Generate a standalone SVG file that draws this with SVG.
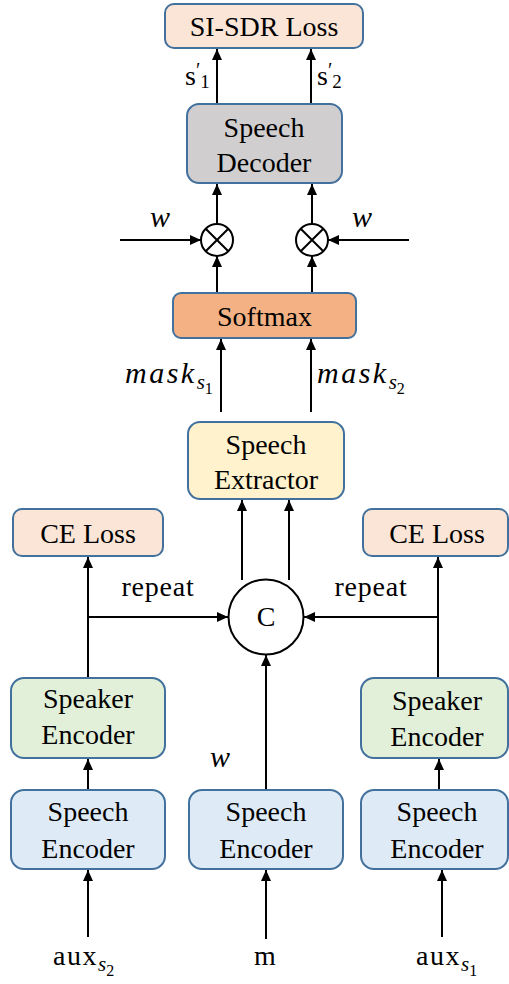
<svg xmlns="http://www.w3.org/2000/svg" width="509" height="984" viewBox="0 0 509 984">
<style>
.box{stroke:#41719C;stroke-width:2}
.t{font-family:"Liberation Serif","Tinos","Times New Roman","DejaVu Serif",serif;font-size:28px;fill:#000;text-anchor:middle}
.m{font-family:"Liberation Serif","Tinos","Times New Roman","DejaVu Serif",serif;font-style:italic;font-size:30px;fill:#000}
.u{font-family:"Liberation Serif","Tinos","Times New Roman","DejaVu Serif",serif;font-size:28px;fill:#000}
.ln{stroke:#000;stroke-width:2;fill:none}
</style>
<defs>
<marker id="ah" markerUnits="userSpaceOnUse" markerWidth="12" markerHeight="10" refX="11" refY="5" orient="auto">
<path d="M0,0 L11,5 L0,10 z" fill="#000"/>
</marker>
</defs>
<rect width="509" height="984" fill="#fff"/>

<g id="connectors">
<line class="ln" x1="217" y1="104" x2="217" y2="49" marker-end="url(#ah)"/>
<line class="ln" x1="311" y1="104" x2="311" y2="49" marker-end="url(#ah)"/>
<line class="ln" x1="217" y1="224" x2="217" y2="184" marker-end="url(#ah)"/>
<line class="ln" x1="312" y1="224" x2="312" y2="184" marker-end="url(#ah)"/>
<line class="ln" x1="120" y1="240" x2="201" y2="240" marker-end="url(#ah)"/>
<line class="ln" x1="409" y1="240" x2="328" y2="240" marker-end="url(#ah)"/>
<line class="ln" x1="217" y1="293" x2="217" y2="256" marker-end="url(#ah)"/>
<line class="ln" x1="312" y1="293" x2="312" y2="256" marker-end="url(#ah)"/>
<line class="ln" x1="221" y1="412" x2="221" y2="339" marker-end="url(#ah)"/>
<line class="ln" x1="311" y1="412" x2="311" y2="339" marker-end="url(#ah)"/>
<line class="ln" x1="242" y1="580" x2="242" y2="500" marker-end="url(#ah)"/>
<line class="ln" x1="289" y1="580" x2="289" y2="500" marker-end="url(#ah)"/>
<line class="ln" x1="88" y1="678" x2="88" y2="557" marker-end="url(#ah)"/>
<line class="ln" x1="88" y1="617" x2="228" y2="617" marker-end="url(#ah)"/>
<line class="ln" x1="438" y1="678" x2="438" y2="557" marker-end="url(#ah)"/>
<line class="ln" x1="438" y1="617" x2="304" y2="617" marker-end="url(#ah)"/>
<line class="ln" x1="266" y1="790" x2="266" y2="655" marker-end="url(#ah)"/>
<line class="ln" x1="88" y1="790" x2="88" y2="759" marker-end="url(#ah)"/>
<line class="ln" x1="439" y1="790" x2="439" y2="759" marker-end="url(#ah)"/>
<line class="ln" x1="88" y1="937" x2="88" y2="870" marker-end="url(#ah)"/>
<line class="ln" x1="266" y1="939" x2="266" y2="870" marker-end="url(#ah)"/>
<line class="ln" x1="442" y1="937" x2="442" y2="870" marker-end="url(#ah)"/>
</g>

<g id="sisdr">
<rect class="box" x="165" y="4" width="198" height="44" rx="9" fill="#FBE5D6"/>
<text class="t" x="264" y="36">SI-SDR Loss</text>
</g>

<g id="decoder">
<rect class="box" x="187" y="104" width="155" height="79" rx="12" fill="#D0CECE"/>
<text class="t" x="264" y="137">Speech</text>
<text class="t" x="264" y="172">Decoder</text>
</g>

<g id="mul1">
<circle cx="217" cy="240" r="16" fill="#fff" stroke="#000" stroke-width="2"/>
<path d="M205.7,228.7 L228.3,251.3 M228.3,228.7 L205.7,251.3" stroke="#000" stroke-width="2"/>
</g>
<g id="mul2">
<circle cx="312" cy="240" r="16" fill="#fff" stroke="#000" stroke-width="2"/>
<path d="M300.7,228.7 L323.3,251.3 M323.3,228.7 L300.7,251.3" stroke="#000" stroke-width="2"/>
</g>

<g id="softmax">
<rect class="box" x="173" y="293" width="183" height="45" rx="8" fill="#F4B183"/>
<text class="t" x="264.5" y="326">Softmax</text>
</g>

<g id="extractor">
<rect class="box" x="188" y="422" width="156" height="77" rx="12" fill="#FFF2CC"/>
<text class="t" x="266" y="454">Speech</text>
<text class="t" x="266" y="489">Extractor</text>
</g>

<g id="celoss1">
<rect class="box" x="13" y="509" width="150" height="47" rx="9" fill="#FBE5D6"/>
<text class="t" x="88" y="543">CE Loss</text>
</g>
<g id="celoss2">
<rect class="box" x="363" y="509" width="145" height="47" rx="9" fill="#FBE5D6"/>
<text class="t" x="437" y="543">CE Loss</text>
</g>

<g id="concat">
<circle cx="266" cy="617" r="37.5" fill="#fff" stroke="#000" stroke-width="2"/>
<text class="t" x="266" y="626">C</text>
</g>

<g id="spk1">
<rect class="box" x="11" y="678" width="154" height="80" rx="13" fill="#E2F0D9"/>
<text class="t" x="88" y="708">Speaker</text>
<text class="t" x="88" y="744">Encoder</text>
</g>
<g id="spk2">
<rect class="box" x="361" y="678" width="147" height="80" rx="13" fill="#E2F0D9"/>
<text class="t" x="437" y="710">Speaker</text>
<text class="t" x="437" y="746">Encoder</text>
</g>

<g id="enc1">
<rect class="box" x="11" y="790" width="154" height="79" rx="13" fill="#DEEBF7"/>
<text class="t" x="88" y="821">Speech</text>
<text class="t" x="88" y="858">Encoder</text>
</g>
<g id="enc2">
<rect class="box" x="189" y="790" width="154" height="79" rx="13" fill="#DEEBF7"/>
<text class="t" x="266" y="821">Speech</text>
<text class="t" x="266" y="858">Encoder</text>
</g>
<g id="enc3">
<rect class="box" x="361" y="790" width="147" height="79" rx="13" fill="#DEEBF7"/>
<text class="t" x="437" y="821">Speech</text>
<text class="t" x="437" y="858">Encoder</text>
</g>

<g id="labels">
<text class="u" x="185" y="85" font-size="27">s<tspan font-size="20" dy="-8">′</tspan><tspan font-size="19" dy="11">1</tspan></text>
<text class="u" x="317" y="85" font-size="27">s<tspan font-size="20" dy="-8">′</tspan><tspan font-size="19" dy="11">2</tspan></text>
<text class="m" x="160" y="227" text-anchor="middle">w</text>
<text class="m" x="362" y="227" text-anchor="middle">w</text>
<text class="m" x="125" y="383" font-size="29" letter-spacing="2.5">mask<tspan font-size="21" letter-spacing="0" dy="6">s</tspan><tspan font-style="normal" font-size="16" letter-spacing="0" dy="5">1</tspan></text>
<text class="m" x="317" y="383" font-size="29" letter-spacing="2.5">mask<tspan font-size="21" letter-spacing="0" dy="6">s</tspan><tspan font-style="normal" font-size="16" letter-spacing="0" dy="5">2</tspan></text>
<text class="t" x="158" y="596" font-size="29" letter-spacing="0.8">repeat</text>
<text class="t" x="371" y="596" font-size="29" letter-spacing="0.8">repeat</text>
<text class="m" x="220" y="767" text-anchor="middle">w</text>
<text class="u" x="53" y="965" letter-spacing="1.5">aux<tspan font-style="italic" font-size="21" letter-spacing="0" dy="6">s</tspan><tspan font-size="16" letter-spacing="0" dy="5">2</tspan></text>
<text class="t" x="265" y="965">m</text>
<text class="u" x="416" y="965" letter-spacing="1.5">aux<tspan font-style="italic" font-size="21" letter-spacing="0" dy="6">s</tspan><tspan font-size="16" letter-spacing="0" dy="5">1</tspan></text>
</g>
</svg>
